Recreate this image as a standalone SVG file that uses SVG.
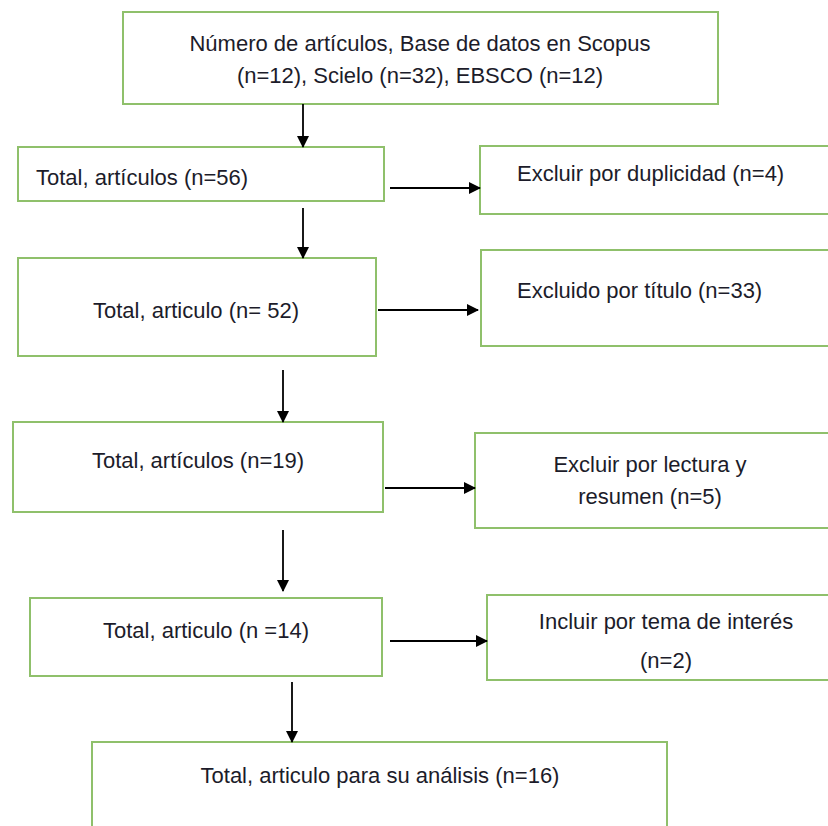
<svg xmlns="http://www.w3.org/2000/svg" width="828" height="826" viewBox="0 0 828 826">
<defs>
<marker id="ah" markerWidth="12" markerHeight="12" refX="11" refY="6" orient="auto" markerUnits="userSpaceOnUse">
<path d="M0,0 L12,6 L0,12 z" fill="#000"/>
</marker>
<style>
.box{fill:#fff;stroke:#8fc06b;stroke-width:2}
.t{font-family:"Liberation Sans",Arial,sans-serif;font-size:22px;fill:#1c1c2a}
.c{text-anchor:middle}
.ln{stroke:#000;stroke-width:1.8;fill:none;marker-end:url(#ah)}
</style>
</defs>
<rect width="828" height="826" fill="#fff"/>
<g id="n1"><rect class="box" x="123" y="12" width="595" height="92"/>
<text class="t c" x="420" y="51">Número de artículos, Base de datos en Scopus</text>
<text class="t c" x="420" y="83">(n=12), Scielo (n=32), EBSCO (n=12)</text></g>
<g id="n2"><rect class="box" x="18" y="147" width="366" height="54"/>
<text class="t" x="36" y="185">Total, artículos (n=56)</text></g>
<g id="n3"><rect class="box" x="480" y="146" width="352" height="68"/>
<text class="t" x="517" y="181">Excluir por duplicidad (n=4)</text></g>
<g id="n4"><rect class="box" x="18" y="258" width="358" height="98"/>
<text class="t c" x="196" y="318">Total, articulo (n= 52)</text></g>
<g id="n5"><rect class="box" x="481" y="250" width="352" height="96"/>
<text class="t" x="517" y="298">Excluido por título (n=33)</text></g>
<g id="n6"><rect class="box" x="13" y="422" width="370" height="90"/>
<text class="t c" x="198" y="468">Total, artículos (n=19)</text></g>
<g id="n7"><rect class="box" x="475" y="433" width="358" height="95"/>
<text class="t c" x="650" y="472">Excluir por lectura y</text>
<text class="t c" x="650" y="504">resumen (n=5)</text></g>
<g id="n8"><rect class="box" x="30" y="598" width="352" height="78"/>
<text class="t c" x="206" y="638">Total, articulo (n =14)</text></g>
<g id="n9"><rect class="box" x="487" y="595" width="346" height="85"/>
<text class="t c" x="666" y="629">Incluir por tema de interés</text>
<text class="t c" x="666" y="668">(n=2)</text></g>
<g id="n10"><rect class="box" x="92" y="742" width="575" height="100"/>
<text class="t c" x="380" y="783">Total, articulo para su análisis (n=16)</text></g>
<g id="connectors">
<line class="ln" x1="303" y1="104" x2="303" y2="147"/>
<line class="ln" x1="390" y1="188" x2="480" y2="188"/>
<line class="ln" x1="303" y1="208" x2="303" y2="258"/>
<line class="ln" x1="378" y1="310" x2="478" y2="310"/>
<line class="ln" x1="283" y1="370" x2="283" y2="422"/>
<line class="ln" x1="385" y1="488" x2="475" y2="488"/>
<line class="ln" x1="283" y1="530" x2="283" y2="591"/>
<line class="ln" x1="390" y1="641" x2="487" y2="641"/>
<line class="ln" x1="292" y1="682" x2="292" y2="742"/>
</g>
</svg>
